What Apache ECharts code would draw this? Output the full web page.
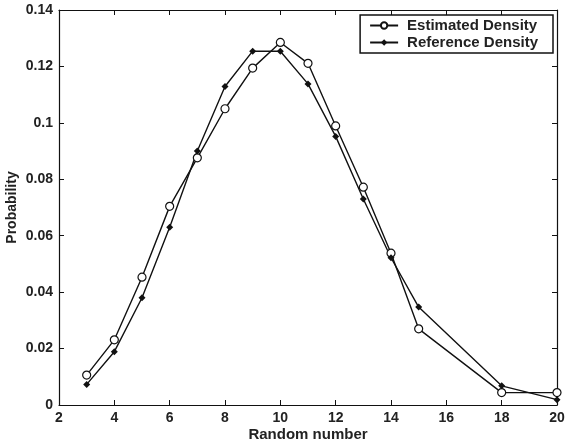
<!DOCTYPE html>
<html>
<head>
<meta charset="utf-8">
<script src="https://cdn.jsdelivr.net/npm/echarts@6/dist/echarts.min.js"></script>
<style>
  html, body { margin: 0; padding: 0; background: #fff; }
  #chart { width: 568px; height: 444px; }
</style>
</head>
<body>
<div id="chart"></div>
<script>
// x positions (random number values)
const xValues = [3, 4, 5, 6, 7, 8, 9, 10, 11, 12, 13, 14, 15, 18, 20];
// estimated density (open circles)
const estimated = [0.0106, 0.0231, 0.0453, 0.0704, 0.0876, 0.105, 0.1194, 0.1285, 0.1211, 0.0989, 0.0772, 0.0538, 0.027, 0.0044, 0.0044];
// reference density (filled diamonds)
const reference = [0.0073, 0.0189, 0.038, 0.063, 0.090, 0.1129, 0.1254, 0.1254, 0.1138, 0.0952, 0.073, 0.0522, 0.0347, 0.0068, 0.0019];

const font = "'Liberation Sans', Arial, sans-serif";
const ink = "#111";
const txt = "#222";

const chart = echarts.init(document.getElementById("chart"));

const pair = (ys) => xValues.map((x, i) => [x, ys[i]]);

const baseX = {
  type: "value",
  min: 2,
  max: 20,
  interval: 2,
  axisLine: { show: true, onZero: false, lineStyle: { color: ink, width: 1.2 } },
  axisTick: { show: true, inside: true, length: 5, lineStyle: { color: ink } },
  splitLine: { show: false },
};
const baseY = {
  type: "value",
  min: 0,
  max: 0.14,
  interval: 0.02,
  axisLine: { show: true, onZero: false, lineStyle: { color: ink, width: 1.2 } },
  axisTick: { show: true, inside: true, length: 5, lineStyle: { color: ink } },
  splitLine: { show: false },
};

const option = {
  animation: false,
  backgroundColor: "#fff",
  grid: { left: 59, right: 11, top: 10, bottom: 39, containLabel: false, outerBoundsMode: "none" },
  legend: {
    right: 15,
    top: 15,
    orient: "vertical",
    itemWidth: 28,
    itemHeight: 8,
    itemGap: 2,
    padding: [3, 15, 3, 9],
    borderColor: ink,
    borderWidth: 1.5,
    backgroundColor: "#fff",
    textStyle: { fontFamily: font, fontWeight: "bold", fontSize: 15, color: txt, padding: [0, 0, 0, 4] },
    data: ["Estimated Density", "Reference Density"],
  },
  xAxis: [
    Object.assign({}, baseX, {
      position: "bottom",
      name: "Random number",
      nameLocation: "middle",
      nameGap: 22,
      nameMoveOverlap: false,
      nameTextStyle: { fontFamily: font, fontWeight: "bold", fontSize: 15, color: txt },
      axisLabel: { fontFamily: font, fontWeight: "bold", fontSize: 14, color: txt, margin: 6 },
    }),
    Object.assign({}, baseX, { position: "top", axisLabel: { show: false } }),
  ],
  yAxis: [
    Object.assign({}, baseY, {
      position: "left",
      name: "Probability",
      nameLocation: "middle",
      nameGap: 40,
      nameMoveOverlap: false,
      nameTextStyle: { fontFamily: font, fontWeight: "bold", fontSize: 14, color: txt },
      axisLabel: { fontFamily: font, fontWeight: "bold", fontSize: 14, color: txt, margin: 6 },
    }),
    Object.assign({}, baseY, { position: "right", axisLabel: { show: false } }),
  ],
  series: [
    {
      name: "Estimated Density",
      type: "line",
      data: pair(estimated),
      symbol: "circle",
      symbolSize: 8,
      showAllSymbol: true,
      lineStyle: { color: ink, width: 1.4 },
      itemStyle: { color: "#fff", borderColor: ink, borderWidth: 1.2 },
    },
    {
      name: "Reference Density",
      type: "line",
      data: pair(reference),
      symbol: "diamond",
      symbolSize: 7,
      showAllSymbol: true,
      lineStyle: { color: ink, width: 1.4 },
      itemStyle: { color: ink },
    },
  ],
};

chart.setOption(option);
</script>
</body>
</html>
